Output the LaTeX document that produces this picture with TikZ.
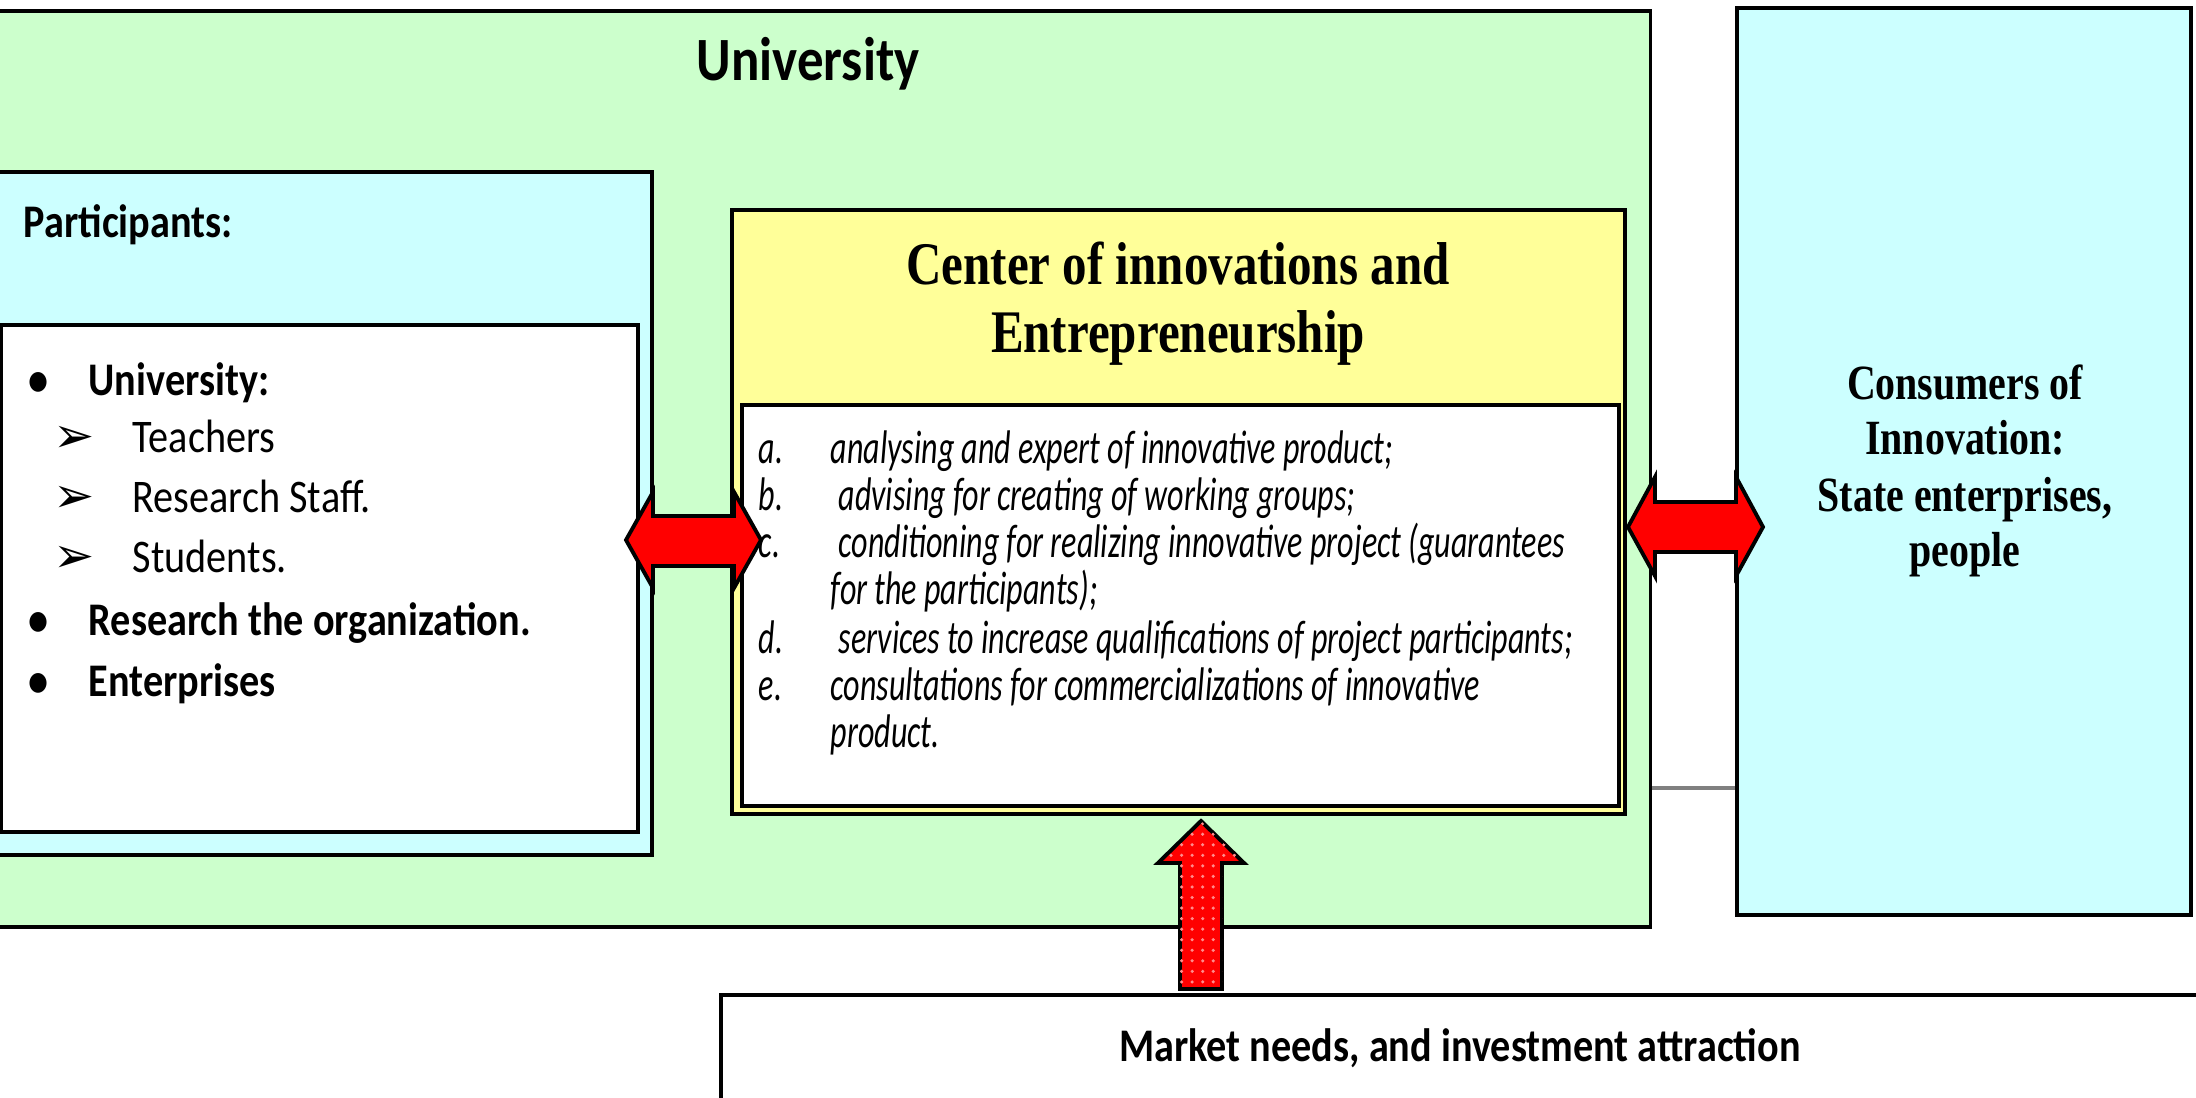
\documentclass[tikz,border=0pt]{standalone}
\usepackage{fontspec}
\usetikzlibrary{calc,patterns}
\newfontfamily\calfont[FakeStretch=0.86]{Carlito}
\newfontfamily\listfont[FakeStretch=0.68]{Carlito}
\newfontfamily\tmsfont[FakeStretch=0.81]{Liberation Serif}
\newfontfamily\symfont{DejaVu Sans}
\definecolor{unigreen}{HTML}{CCFFCC}
\definecolor{partcyan}{HTML}{CCFFFF}
\definecolor{centyellow}{HTML}{FFFF99}
\begin{document}
\begin{tikzpicture}[x=0.01cm, y=-0.01cm]
\tikzstyle{box} = [draw=black, line width=1.1pt, rectangle, inner sep=0pt]
\tikzstyle{boldtxt} = [inner sep=0pt, font=\calfont\bfseries\fontsize{13.3pt}{16pt}\selectfont]
\tikzstyle{plaintxt} = [inner sep=0pt, font=\calfont\fontsize{13.3pt}{16pt}\selectfont]
\tikzstyle{itemtxt} = [inner sep=0pt, anchor=base west, font=\listfont\itshape\fontsize{13.4pt}{16pt}\selectfont]
\tikzstyle{serifbig} = [inner sep=0pt, anchor=base, font=\tmsfont\bfseries\fontsize{17.2pt}{20pt}\selectfont]
\tikzstyle{serifmid} = [inner sep=0pt, anchor=base, font=\tmsfont\bfseries\fontsize{14pt}{17pt}\selectfont]
\tikzstyle{blockarrow} = [draw=black, line width=1.1pt, fill=red, line join=miter]
\useasboundingbox (0,0) rectangle (2196,1098);

% boxes
\node[box, fill=unigreen, minimum width=16.6cm, minimum height=9.16cm] (univ) at (820,469) {};
\node[box, fill=partcyan, minimum width=6.62cm, minimum height=6.83cm] (part) at (321,513.5) {};
\node[box, fill=white, minimum width=6.37cm, minimum height=5.07cm] (plist) at (319.5,578.5) {};
\node[box, fill=centyellow, minimum width=8.93cm, minimum height=6.04cm] (cent) at (1178.5,512) {};
\node[box, fill=white, minimum width=8.77cm, minimum height=4.01cm] (clist) at (1180.5,605.5) {};
\node[box, fill=partcyan, minimum width=4.54cm, minimum height=9.07cm] (cons) at (1964,461.5) {};
\node[box, fill=white, minimum width=15.09cm, minimum height=1.35cm] (market) at (1475.5,1062.5) {};

% thin link between university and consumers
\coordinate (gl) at (1690,788);
\draw[gray, line width=1.2pt] (gl -| univ.east) -- (gl -| cons.west);

% arrows
\coordinate (la) at (626,540);
\coordinate (lb) at (761,540);
\draw[blockarrow] (la) -- ++(27,-48) -- ++(0,24) -- ($(lb)+(-27,-24)$) -- ++(0,-24) -- (lb)
  -- ++(-27,48) -- ++(0,-22) -- ($(la)+(27,26)$) -- ++(0,22) -- cycle;
\coordinate (ra) at (1628,527);
\coordinate (rb) at (1763,527);
\draw[blockarrow] (ra) -- ++(27,-50) -- ++(0,25) -- ($(rb)+(-27,-25)$) -- ++(0,-25) -- (rb)
  -- ++(-27,49) -- ++(0,-24) -- ($(ra)+(27,25)$) -- ++(0,24) -- cycle;
\coordinate (ua) at (1201,821);
\coordinate (ub) at (1201,989);
\draw[blockarrow, postaction={pattern=dots, pattern color=red!45!white}] (ua) -- ++(43,42) -- ++(-22,0) -- ($(ub)+(21,0)$)
  -- ($(ub)+(-21,0)$) -- ($(ua)+(-21,42)$) -- ++(-22,0) -- cycle;

% titles
\node[boldtxt, anchor=base, font=\calfont\bfseries\fontsize{17.5pt}{20pt}\selectfont] (unititle) at (808,81) {University};
\node[boldtxt, anchor=base west] (parttitle) at (23,238) {Participants:};
\node[serifbig] (centtitle1) at (1178,285) {Center of innovations and};
\node[serifbig] (centtitle2) at (1178,353) {Entrepreneurship};
\node[boldtxt, anchor=base] (markettitle) at (1460,1062) {Market needs, and investment attraction};

% participants list
\foreach \yy/\txt in {396/University:, 636/Research the organization., 697/Enterprises} {
  \node[boldtxt, anchor=base] (bul-\yy) at (39,\yy) {•};
  \node[boldtxt, anchor=base west] (it-\yy) at (88,\yy) {\txt};
}
\foreach \yy/\txt in {453/Teachers, 513/Research Staff., 573/Students.} {
  \node[inner sep=0pt, anchor=base, font=\symfont\fontsize{14pt}{16pt}\selectfont] (arr-\yy) at (74,\yy) {➢};
  \node[plaintxt, anchor=base west] (sub-\yy) at (132,\yy) {\txt};
}

% center services
\foreach \yy/\lab/\xx/\txt in {464/a./830/analysing and expert of innovative product;,
  511/b./838/advising for creating of working groups;,
  558/c./838/conditioning for realizing innovative project (guarantees,
  605//830/for the participants);,
  654/d./838/services to increase qualifications of project participants;,
  701/e./830/consultations for commercializations of innovative,
  748//830/product.} {
  \node[itemtxt] (lab-\yy) at (758,\yy) {\lab};
  \node[itemtxt] (srv-\yy) at (\xx,\yy) {\txt};
}

% consumers
\foreach \yy/\txt in {400/Consumers of, 455/Innovation:, 512/{State enterprises,}, 567/people} {
  \node[serifmid] (cons-\yy) at (1965,\yy) {\txt};
}
\end{tikzpicture}
\end{document}
